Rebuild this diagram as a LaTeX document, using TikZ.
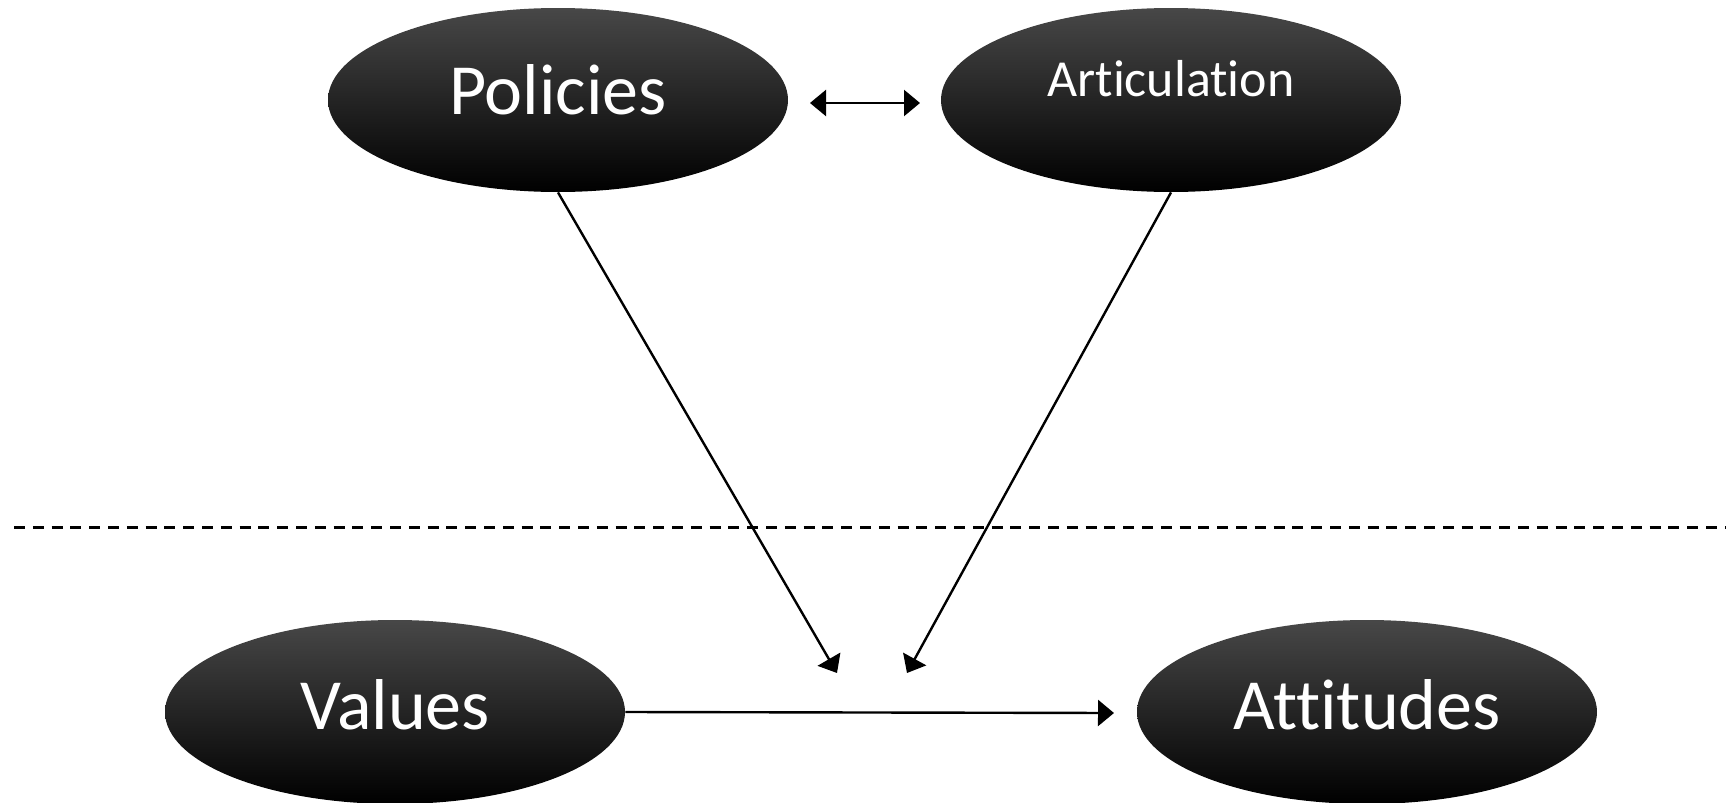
\documentclass[tikz,border=0pt]{standalone}
\usepackage{fontspec}
\setmainfont{Carlito}[Ligatures=NoCommon]
\usetikzlibrary{arrows.meta,shapes.geometric}
\tikzset{
  oval/.style={ellipse, minimum width=230pt, minimum height=92pt, inner sep=0pt,
    top color=black!72, middle color=black, bottom color=black, text=white},
  big/.style={font=\fontsize{36pt}{40pt}\selectfont},
  small/.style={font=\fontsize{26pt}{30pt}\selectfont},
  conn/.style={line width=1.2pt, -{Triangle[length=8pt,width=13pt]}},
  bothconn/.style={line width=1.2pt, {Triangle[length=8pt,width=13pt]}-{Triangle[length=8pt,width=13pt]}},
  divider/.style={line width=1.5pt, dash pattern=on 5.5pt off 3.9pt}
}
\begin{document}
\begin{tikzpicture}[x=0.5pt,y=-0.5pt]
\useasboundingbox (0,0) rectangle (1726,803);
\node[oval,big] (pol) at (558,100) {\raisebox{10pt}{Policies}};
\node[oval,small] (art) at (1171,100) {\raisebox{22pt}{Articulation}};
\node[oval,big] (val) at (395,712) {\raisebox{8pt}{Values}};
\node[oval,big] (att) at (1367,712) {\raisebox{8pt}{Attitudes}};
\coordinate (lt) at (810,103);
\coordinate (rt) at (920,103);
\coordinate (p1) at (837,673);
\coordinate (p2) at (907,673);
\coordinate (vt) at (1114,713);
\coordinate (dl) at (14,527);
\coordinate (dr) at (1726,527);
\draw[bothconn] (lt) -- (rt);
\draw[conn] (pol.south) -- (p1);
\draw[conn] (art.south) -- (p2);
\draw[conn] (val.east) -- (vt);
\draw[divider] (dl) -- (dr);
\end{tikzpicture}
\end{document}
